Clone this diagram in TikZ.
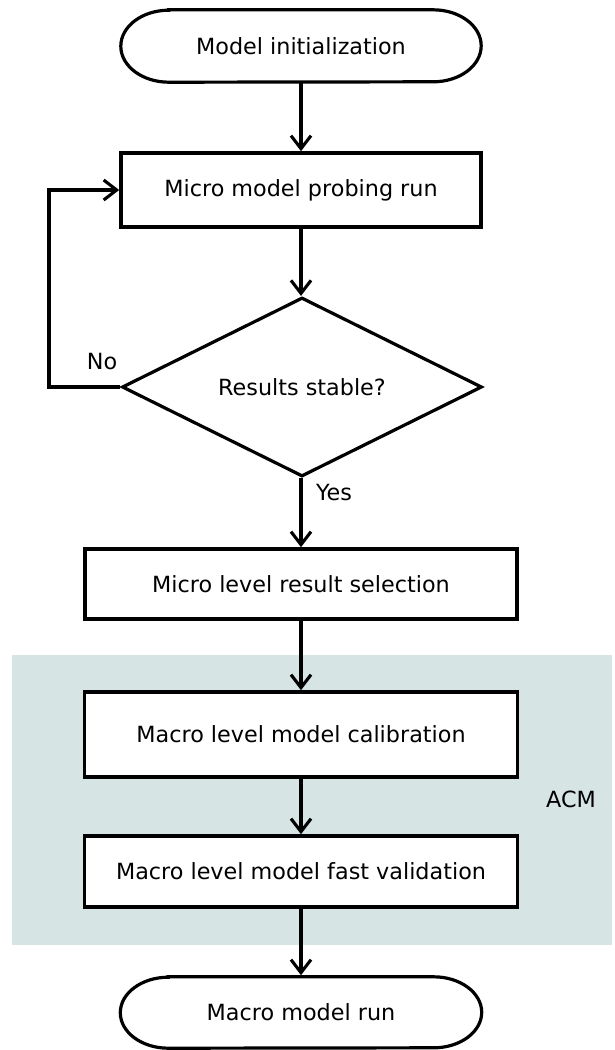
\documentclass[tikz,border=0pt]{standalone}
\usepackage{fontspec}
\setmainfont{DejaVu Sans}
\usetikzlibrary{arrows.meta,shapes.geometric,calc}
\definecolor{acmbg}{RGB}{214,228,228}
\tikzset{
  x=1pt, y=1pt,
  every node/.style={font=\fontsize{22.3}{27}\selectfont, text=black},
  procbox/.style={draw, line width=3.6pt, fill=white, inner sep=0pt},
  termbox/.style={inner sep=0pt},
  decision/.style={diamond, draw, line width=3.2pt, fill=white, inner sep=0pt, aspect=2},
  flow/.style={line width=3.1pt, -{Straight Barb[length=13pt,width=20pt]}},
  termline/.style={line width=3.2pt, fill=white},
}
% draw a terminal outline with elliptical ends around node #1
\newcommand{\termoutline}[1]{%
  \draw[termline] ($(#1.north west)+(48,0)$) -- ($(#1.north east)+(-48,0)$)
    arc[start angle=90, end angle=-90, x radius=48pt, y radius=0.5*\termh]
    -- ($(#1.south west)+(48,0)$)
    arc[start angle=270, end angle=90, x radius=48pt, y radius=0.5*\termh] -- cycle;}
\begin{document}
\begin{tikzpicture}
\useasboundingbox (0,0) rectangle (614,-1050);
% ACM region
\fill[acmbg] (12,-655) rectangle (612,-945);
\node (acm) at (571,-799) {ACM};

% terminals
\def\termh{72pt}
\node[termbox, minimum width=360pt, minimum height=72pt] (init) at (301,-46) {};
\termoutline{init}
\node at (init.center) {Model initialization};

\node[procbox, minimum width=360pt, minimum height=74pt] (probe) at (301,-190) {Micro model probing run};
\node[decision, minimum width=360pt, minimum height=179pt] (stable) at (302,-387) {Results stable?};
\node[procbox, minimum width=432pt, minimum height=70pt] (select) at (301,-584) {Micro level result selection};
\node[procbox, minimum width=433pt, minimum height=85pt] (calib) at (301,-734.5) {Macro level model calibration};
\node[procbox, minimum width=433pt, minimum height=71pt] (valid) at (301,-871.5) {Macro level model fast validation};

\def\termh{71pt}
\node[termbox, minimum width=361pt, minimum height=71pt] (run) at (301,-1012.5) {};
\termoutline{run}
\node at (run.center) {Macro model run};

% connectors
\coordinate (loopbot) at (49,-387);
\coordinate (looptop) at (49,-190);
\draw[flow] (init) -- (probe);
\draw[flow] (probe.south) -- (probe.south |- stable.north);
\draw[flow] (stable.west) -- (loopbot) -- (looptop) -- (probe.west);
\draw[flow] (stable.south -| select.north) -- (select.north);
\draw[flow] (select) -- (calib);
\draw[flow] (calib) -- (valid);
\draw[flow] (valid.south) -- ($(run.north)+(0,1.6)$);

% branch labels
\node (nolabel) at (102,-362) {No};
\node (yeslabel) at (334,-493) {Yes};
\end{tikzpicture}
\end{document}
